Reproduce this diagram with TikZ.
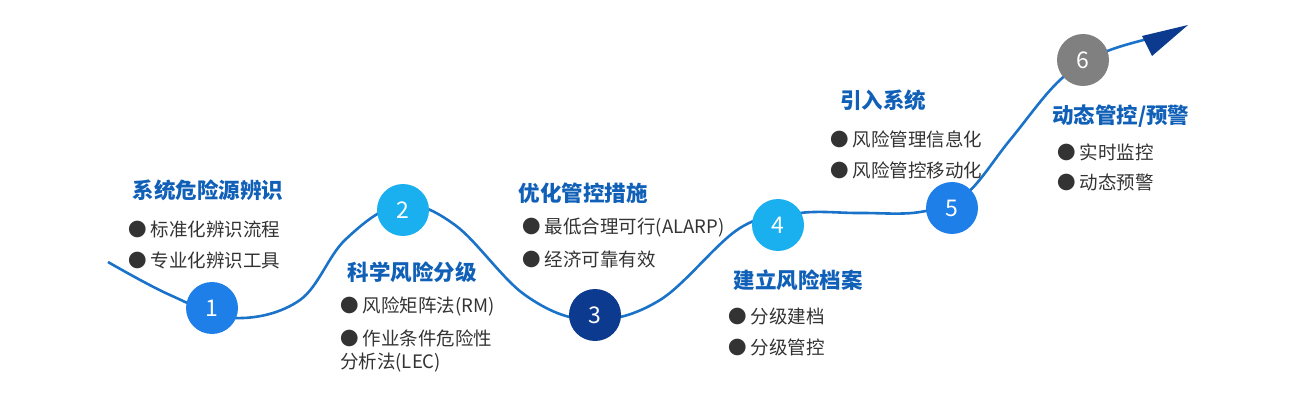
\documentclass[tikz,border=0pt]{standalone}
\usepackage{fontspec}
\setmainfont{Noto Sans CJK SC}
\definecolor{line}{HTML}{1A73C8}
\definecolor{cblue}{HTML}{1E7FE8}
\definecolor{ccyan}{HTML}{1AB0F0}
\definecolor{cnavy}{HTML}{0B3A8E}
\definecolor{cgray}{HTML}{808080}
\definecolor{ttl}{HTML}{1060B8}
\definecolor{txt}{HTML}{333333}
\tikzset{
 num/.style={circle,minimum size=52pt,inner sep=0pt,text=white,font=\fontsize{23}{23}\selectfont},
 ttlbox/.style={text=ttl,font=\fontsize{21.5}{24}\selectfont\bfseries,inner sep=0pt},
 item/.style={text=txt,font=\fontsize{18.5}{22}\selectfont,inner sep=0pt,anchor=west}
}
\begin{document}
\begin{tikzpicture}[x=1pt,y=-1pt]
\useasboundingbox (0,0) rectangle (1300,403);
\draw[line,line width=2.6pt] plot[smooth,tension=0.6] coordinates{(108,262) (170,295) (235,318) (300,300) (345,240) (400,205) (455,225) (525,295) (590,320) (660,300) (740,228) (800,213) (860,213) (920,212) (965,195) (1010,140) (1060,80) (1105,52) (1160,36)};
\fill[cnavy] (1188,25) -- (1142,36) -- (1152,56) -- cycle;
\node[num,fill=cblue] (n1) at (212,308) {1};
\node[num,fill=ccyan] (n2) at (403,210) {2};
\node[num,fill=cnavy] (n3) at (595,315) {3};
\node[num,fill=ccyan] (n4) at (778,225) {4};
\node[num,fill=cblue] (n5) at (952,208) {5};
\node[num,fill=cgray] (n6) at (1083,60) {6};
\node[ttlbox] (t1) at (208,190) {系统危险源辨识};
\node[item] (a1) at (128,229) {● 标准化辨识流程};
\node[item] (a2) at (128,260) {● 专业化辨识工具};
\node[ttlbox] (t2) at (412,272) {科学风险分级};
\node[item] (b1) at (340,306) {● 风险矩阵法(RM)};
\node[item] (b2) at (340,338) {● 作业条件危险性};
\node[item] (b3) at (340,363) {分析法(LEC)};
\node[ttlbox] (t3) at (583,193) {优化管控措施};
\node[item] (c1) at (522,228) {● 最低合理可行(ALARP)};
\node[item] (c2) at (522,259) {● 经济可靠有效};
\node[ttlbox] (t4) at (798,280) {建立风险档案};
\node[item] (d1) at (728,316) {● 分级建档};
\node[item] (d2) at (728,347) {● 分级管控};
\node[ttlbox,anchor=west] (t5) at (840,100) {引入系统};
\node[item] (e1) at (830,139) {● 风险管理信息化};
\node[item] (e2) at (830,170) {● 风险管控移动化};
\node[ttlbox,anchor=west] (t6) at (1052,116) {动态管控/预警};
\node[item] (f1) at (1057,152) {● 实时监控};
\node[item] (f2) at (1057,182) {● 动态预警};
\end{tikzpicture}
\end{document}
